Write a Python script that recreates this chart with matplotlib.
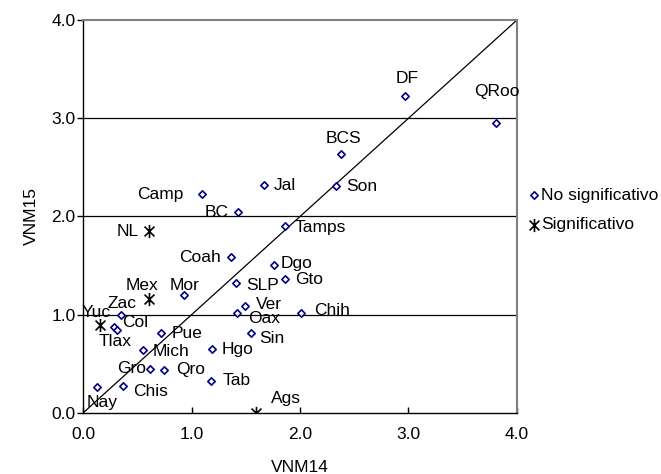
import matplotlib
matplotlib.use('Agg')
import matplotlib.pyplot as plt
from matplotlib.path import Path

plt.rcParams['font.family'] = ['Liberation Sans', 'DejaVu Sans']
plt.rcParams['font.size'] = 12.5

# Estados no significativos
estados_ns = ['DF', 'QRoo', 'BCS', 'Son', 'Jal', 'Tamps', 'Camp', 'BC', 'Coah', 'Dgo',
              'Gto', 'SLP', 'Mor', 'Zac', 'Ver', 'Oax', 'Chih', 'Col', 'Tlax', 'Pue',
              'Mich', 'Hgo', 'Gro', 'Qro', 'Tab', 'Nay', 'Chis', 'Sin']
vnm14_ns = [2.97, 3.81, 2.38, 2.33, 1.67, 1.86, 1.10, 1.43, 1.36, 1.76,
            1.86, 1.41, 0.93, 0.35, 1.49, 1.42, 2.01, 0.29, 0.31, 0.72,
            0.55, 1.19, 0.62, 0.75, 1.18, 0.13, 0.37, 1.55]
vnm15_ns = [3.23, 2.95, 2.64, 2.31, 2.32, 1.90, 2.23, 2.05, 1.59, 1.51,
            1.36, 1.32, 1.20, 1.00, 1.09, 1.02, 1.02, 0.88, 0.84, 0.81,
            0.64, 0.65, 0.45, 0.44, 0.33, 0.26, 0.27, 0.81]

# Estados significativos
estados_s = ['NL', 'Mex', 'Yuc', 'Ags']
vnm14_s = [0.61, 0.61, 0.16, 1.59]
vnm15_s = [1.85, 1.16, 0.90, 0.00]

# desplazamiento de etiquetas en pixeles (dx, dy, alineacion)
offs = {
    'DF': (2, 17, 'center'), 'QRoo': (1, 32, 'center'), 'BCS': (2, 15, 'center'),
    'Son': (10, 0, 'left'), 'Jal': (10, 0, 'left'), 'Tamps': (10, -1, 'left'),
    'Camp': (-19, -1, 'right'), 'BC': (-10, -1, 'right'), 'Coah': (-10, -1, 'right'),
    'Dgo': (7, 1, 'left'), 'Gto': (10, 0, 'left'), 'SLP': (10, -2, 'left'),
    'Mor': (1, 10, 'center'), 'Zac': (1, 11, 'center'), 'Ver': (11, 1, 'left'),
    'Oax': (11, -6, 'left'), 'Chih': (13, 2, 'left'), 'Col': (8, 4, 'left'),
    'Tlax': (-2, -11, 'center'), 'Pue': (10, 0, 'left'), 'Mich': (10, -1, 'left'),
    'Hgo': (10, 0, 'left'), 'Gro': (-4, 0, 'right'), 'Qro': (12, 0, 'left'),
    'Tab': (12, 0, 'left'), 'Nay': (5, -15, 'center'), 'Chis': (10, -5, 'left'),
    'Sin': (8, -5, 'left'),
    'NL': (-10, 0, 'right'), 'Mex': (-7, 14, 'center'), 'Yuc': (-4, 12, 'center'),
    'Ags': (15, 14, 'left'),
}

# marcador asterisco tipo Excel (X con linea vertical)
estrella = Path([(0, -1), (0, 1), (-0.75, -0.75), (0.75, 0.75), (-0.75, 0.75), (0.75, -0.75)],
                [Path.MOVETO, Path.LINETO, Path.MOVETO, Path.LINETO, Path.MOVETO, Path.LINETO])

fig = plt.figure(figsize=(6.61, 4.74), dpi=100)
ax = fig.add_axes([0.1256, 0.1287, 0.6565, 0.8291])

for yv in [1, 2, 3]:
    ax.axhline(yv, color='black', lw=0.9, zorder=1)
ax.plot([0, 4], [0, 4], color='black', lw=0.9, zorder=1)

ax.scatter(vnm14_ns, vnm15_ns, marker='D', s=14, facecolors='white',
           edgecolors='#000080', linewidths=1.2, zorder=3, label='No significativo')
ax.scatter(vnm14_s, vnm15_s, marker=estrella, s=90, color='black',
           linewidths=1.2, zorder=3, label='Significativo')

for nom, x, y in zip(estados_ns + estados_s, vnm14_ns + vnm14_s, vnm15_ns + vnm15_s):
    dx, dy, ha = offs[nom]
    ax.annotate(nom, (x, y), xytext=(dx, dy), textcoords='offset pixels',
                ha=ha, va='center', zorder=4)

ax.set_xlim(0, 4)
ax.set_ylim(0, 4)
ax.set_xticks([0, 1, 2, 3, 4])
ax.set_yticks([0, 1, 2, 3, 4])
ax.set_xticklabels(['0.0', '1.0', '2.0', '3.0', '4.0'])
ax.set_yticklabels(['0.0', '1.0', '2.0', '3.0', '4.0'])
ax.tick_params(length=4, width=1)
ax.tick_params(axis='x', direction='in', pad=10)
ax.tick_params(axis='y', direction='out', pad=1.5)
ax.set_xlabel('VNM14', labelpad=13)
ax.set_ylabel('VNM15', labelpad=9)

for s in ['top', 'right']:
    ax.spines[s].set_color('#808080')
    ax.spines[s].set_linewidth(1.5)
for s in ['left', 'bottom']:
    ax.spines[s].set_color('black')
    ax.spines[s].set_linewidth(1.0)

fig.legend(loc='center left', bbox_to_anchor=(0.797, 0.557), frameon=False,
           handletextpad=0.0, handlelength=0.8, labelspacing=0.8, borderaxespad=0,
           borderpad=0)

plt.savefig('out.png', dpi=100)
